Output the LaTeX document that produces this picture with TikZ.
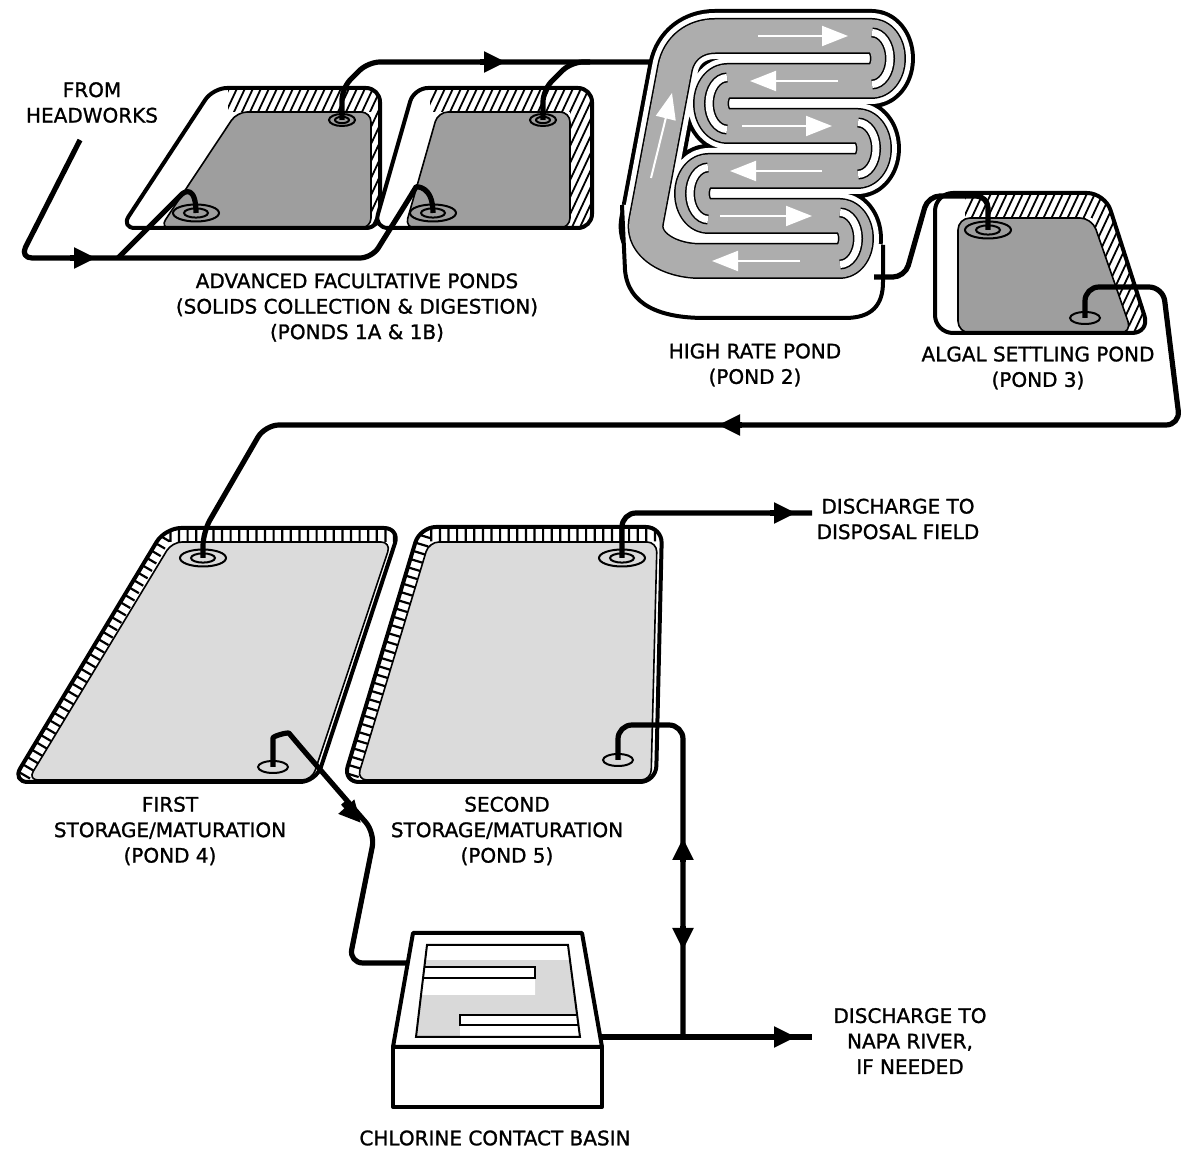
\documentclass[tikz,border=0pt]{standalone}
\usepackage{fontspec}
\setmainfont{DejaVu Sans}
\newfontfamily\lblfont{DejaVu Sans}[FakeBold=1.2]
\usetikzlibrary{arrows.meta,decorations.pathreplacing}
\definecolor{pondA}{gray}{0.62}
\definecolor{chan}{gray}{0.68}
\definecolor{pondB}{gray}{0.86}
\definecolor{basing}{gray}{0.85}
\newcommand\serppath[1]{\draw[#1] (715,36) -- (872,36) arc[start angle=90,end angle=-90,x radius=8pt,y radius=11.25pt] -- (727,81) arc[start angle=90,end angle=270,x radius=8pt,y radius=11.25pt] -- (858,126) arc[start angle=90,end angle=-90,x radius=8pt,y radius=11.25pt] -- (708,171) arc[start angle=90,end angle=270,x radius=8pt,y radius=11.25pt] -- (840,216) arc[start angle=90,end angle=-90,x radius=8pt,y radius=11.25pt] -- (700,261) .. controls (670,261) and (642,245) .. (646,222) -- (675,68) .. controls (679,48) and (695,36) .. (715,36) -- cycle;}
\begin{document}
\begin{tikzpicture}[x=0.5pt,y=-0.5pt,
  pipe/.style={line width=2.6pt,line join=round},
  outl/.style={line width=2pt,line join=round},
  thinl/.style={line width=0.8pt},
  hatchl/.style={line width=0.9pt},
  ringl/.style={line width=1pt},
  lbl/.style={font=\lblfont\fontsize{10}{12.75}\selectfont,align=center,inner sep=0pt},
  warrow/.style={draw=white,line width=1pt,-{Triangle[length=13pt,width=10pt]}},
  parrow/.style={line width=2.6pt,-{Triangle[length=11pt,width=10pt]}},
  tickband/.style={line width=1.1pt,decorate,decoration={ticks,segment length=4.3pt,amplitude=3.5pt}}]
\useasboundingbox (0,0) rectangle (1185,1149);

% ---------- Pond 1A ----------
\fill[white,rounded corners=7pt] (213,88) -- (380,88) -- (380,228) -- (121,228) -- cycle;
\begin{scope}
 \clip[rounded corners=7pt] (213,88) -- (380,88) -- (380,228) -- (121,228) -- cycle;
 \clip (228,80) -- (390,80) -- (390,235) -- (371,235) -- (371,112) -- (228,112) -- cycle;
 \foreach \i in {0,...,31} \draw[hatchl] (150+8*\i,240) -- ++(75,-160);
\end{scope}
\filldraw[fill=pondA,thinl,rounded corners=5pt] (237,112) -- (371,112) -- (371,228) -- (160,228) -- cycle;
\draw[outl,rounded corners=7pt] (213,88) -- (380,88) -- (380,228) -- (121,228) -- cycle;

% ---------- Pond 1B ----------
\fill[white,rounded corners=7pt] (414,88) -- (592,88) -- (592,228) -- (374,228) -- cycle;
\begin{scope}
 \clip[rounded corners=7pt] (414,88) -- (592,88) -- (592,228) -- (374,228) -- cycle;
 \clip (430,80) -- (600,80) -- (600,235) -- (570,235) -- (570,112) -- (430,112) -- cycle;
 \foreach \i in {0,...,32} \draw[hatchl] (350+8*\i,240) -- ++(75,-160);
\end{scope}
\filldraw[fill=pondA,thinl,rounded corners=5pt] (438,112) -- (570,112) -- (570,228) -- (405,228) -- cycle;
\draw[outl,rounded corners=7pt] (414,88) -- (592,88) -- (592,228) -- (374,228) -- cycle;

% ---------- Pond 3 ----------
\fill[white,rounded corners=9pt] (935,193) -- (1105,193) -- (1150,333) -- (935,333) -- cycle;
\begin{scope}
 \clip[rounded corners=9pt] (935,193) -- (1105,193) -- (1150,333) -- (935,333) -- cycle;
 \clip (965,185) -- (1165,185) -- (1165,345) -- (1136,345) -- (1092,218) -- (965,218) -- cycle;
 \foreach \i in {0,...,37} \draw[hatchl] (880+8*\i,345) -- ++(75,-160);
\end{scope}
\filldraw[fill=pondA,thinl,rounded corners=6pt] (958,218) -- (1092,218) -- (1132,333) -- (958,333) -- cycle;
\draw[outl,rounded corners=9pt] (935,193) -- (1105,193) -- (1150,333) -- (935,333) -- cycle;

% ---------- Pond 2 (high rate) ----------
\serppath{line width=27pt,line join=round}
\serppath{white,line width=23pt,line join=round}
\fill[white] (622,205) -- (625,270) .. controls (628,305) and (660,318) .. (705,318) -- (845,318) .. controls (872,318) and (883,305) .. (883,282) -- (883,245) -- (840,232) -- (645,205) -- cycle;
\draw[outl] (622,205) -- (625,270) .. controls (628,305) and (660,318) .. (705,318) -- (845,318) .. controls (872,318) and (883,305) .. (883,282) -- (883,245);
\serppath{line width=18pt,line join=round}
\serppath{chan,line width=16.5pt,line join=round}
\foreach \cx/\cy/\ea in {872/58.5/-90, 727/103.5/270, 858/148.5/-90, 708/193.5/270, 840/238.5/-90}{
  \draw[line width=5pt] (\cx,\cy-26) arc[start angle=90,end angle=\ea,x radius=9pt,y radius=13pt];
  \draw[white,line width=3.5pt] (\cx,\cy-26) arc[start angle=90,end angle=\ea,x radius=9pt,y radius=13pt];
}
\draw[warrow] (758,36) -- (848,36);
\draw[warrow] (838,81) -- (750,81);
\draw[warrow] (742,126) -- (832,126);
\draw[warrow] (822,171) -- (730,171);
\draw[warrow] (720,216) -- (812,216);
\draw[warrow] (800,261) -- (712,261);
\draw[warrow] (651,178) -- (672,93);

% ---------- Pond 4 ----------
\fill[white,rounded corners=8pt] (165,528) -- (400,528) -- (316,782) -- (12,782) -- cycle;
\begin{scope}
 \clip[rounded corners=8pt] (165,528) -- (400,528) -- (316,782) -- (12,782) -- cycle;
 \draw[tickband] (24,775) -- (165,535) -- (395,535);
\end{scope}
\filldraw[fill=pondB,thinl,rounded corners=5pt] (172,542) -- (391,542) -- (312,780) -- (28,780) -- cycle;
\draw[outl,rounded corners=8pt] (165,528) -- (400,528) -- (316,782) -- (12,782) -- cycle;

% ---------- Pond 5 ----------
\fill[white,rounded corners=8pt] (420,527) -- (662,527) -- (656,782) -- (343,782) -- cycle;
\begin{scope}
 \clip[rounded corners=8pt] (420,527) -- (662,527) -- (656,782) -- (343,782) -- cycle;
 \draw[tickband] (352,775) -- (424.5,534.5) -- (657,534.5);
\end{scope}
\filldraw[fill=pondB,thinl,rounded corners=5pt] (429,542) -- (657,542) -- (651,780) -- (357,780) -- cycle;
\draw[outl,rounded corners=8pt] (420,527) -- (662,527) -- (656,782) -- (343,782) -- cycle;

% ---------- Chlorine contact basin ----------
\filldraw[fill=white,outl] (413,933) -- (582,933) -- (602,1047) -- (393,1047) -- cycle;
\filldraw[fill=white,outl] (393,1047) rectangle (602,1107);
\fill[basing] (427,945) -- (568,945) -- (580,1037) -- (416,1037) -- cycle;
\fill[white] (427,945) -- (568,945) -- (570,960) -- (425.2,960) -- cycle;
\fill[white] (424.4,967) -- (535,967) -- (535,995) -- (421,995) -- cycle;
\fill[white] (460,1015) -- (577.1,1015) -- (580,1037) -- (460,1037) -- cycle;
\draw[thinl] (424.4,967) -- (535,967) -- (535,978) -- (423,978);
\draw[thinl] (577.1,1015) -- (460,1015) -- (460,1025) -- (578.4,1025);
\draw[line width=1pt] (427,945) -- (568,945) -- (580,1037) -- (416,1037) -- cycle;

% ---------- Inlets / outlets ----------
\coordinate (in1A) at (196,213);  \coordinate (out1A) at (342,120);
\coordinate (in1B) at (433,213);  \coordinate (out1B) at (543,120);
\coordinate (in3) at (988,230);   \coordinate (out3) at (1085,318);
\coordinate (in4) at (203,558);   \coordinate (out4) at (273,767);
\coordinate (top5) at (622,558);  \coordinate (bot5) at (618,760);
\foreach \p in {in1A,in1B,in3,in4,top5}{
  \draw[ringl] (\p) ellipse[x radius=11.5pt,y radius=4.25pt];
  \draw[ringl] (\p) ellipse[x radius=6pt,y radius=2.3pt];
}
\foreach \p in {out1A,out1B}{
  \draw[ringl] (\p) ellipse[x radius=6.5pt,y radius=3pt];
  \draw[ringl] (\p) ellipse[x radius=3.5pt,y radius=1.6pt];
}
\foreach \p in {out3,out4,bot5}{
  \draw[ringl] (\p) ellipse[x radius=7.5pt,y radius=3pt];
}

% ---------- Pipes ----------
\draw[pipe,rounded corners=6pt] (80,140) -- (20,258) -- (372,258) -- (410,197) .. controls (416,187) and (433,185) .. (in1B);
\draw[pipe] (118,258) -- (180,196) .. controls (185,190) and (196,186) .. (in1A);
\draw[parrow] (70,258) -- (96,258);
\draw[pipe,rounded corners=6pt] (out1A) -- (342,88) -- (368,62) -- (652,62);
\draw[pipe,rounded corners=6pt] (out1B) -- (543,90) -- (571,62) -- (590,62);
\draw[parrow] (480,62) -- (506,62);
\draw[pipe,rounded corners=6pt] (874,277) -- (905,277) -- (928,196) -- (988,196) -- (in3);
\draw[pipe,rounded corners=7pt] (out3) -- (1085,287) -- (1163,287) -- (1180,425) -- (265,425) -- (203,532) -- (in4);
\draw[parrow] (742,425) -- (718,425);
\draw[pipe,rounded corners=7pt] (top5) -- (622,513) -- (812,513);
\draw[parrow] (770,513) -- (796,513);
\draw[pipe,rounded corners=7pt] (out4) -- (273,752) .. controls (273,736) and (288,732) .. (298,744) -- (375,833) -- (349,963) -- (409,963);
\draw[parrow] (343,803) -- (361,823);
\draw[pipe,rounded corners=7pt] (bot5) -- (618,725) -- (683,725) -- (683,1037);
\draw[parrow] (683,862) -- (683,838);
\draw[parrow] (683,926) -- (683,950);
\draw[pipe] (601,1037) -- (812,1037);
\draw[parrow] (770,1037) -- (796,1037);

% ---------- Labels ----------
\node[lbl] (t_head) at (92,102.5) {FROM\\HEADWORKS};
\node[lbl] (t_afp) at (357,307.5) {ADVANCED FACULTATIVE PONDS\\(SOLIDS COLLECTION \& DIGESTION)\\(PONDS 1A \& 1B)};
\node[lbl] (t_hrp) at (755,365) {HIGH RATE POND\\(POND 2)};
\node[lbl] (t_asp) at (1038,368) {ALGAL SETTLING POND\\(POND 3)};
\node[lbl] (t_disp) at (898,519) {DISCHARGE TO\\DISPOSAL FIELD};
\node[lbl] (t_p4) at (170,831) {FIRST\\STORAGE/MATURATION\\(POND 4)};
\node[lbl] (t_p5) at (507,831) {SECOND\\STORAGE/MATURATION\\(POND 5)};
\node[lbl] (t_napa) at (910,1041) {DISCHARGE TO\\NAPA RIVER,\\IF NEEDED};
\node[lbl] (t_ccb) at (495,1138) {CHLORINE CONTACT BASIN};
\end{tikzpicture}
\end{document}
